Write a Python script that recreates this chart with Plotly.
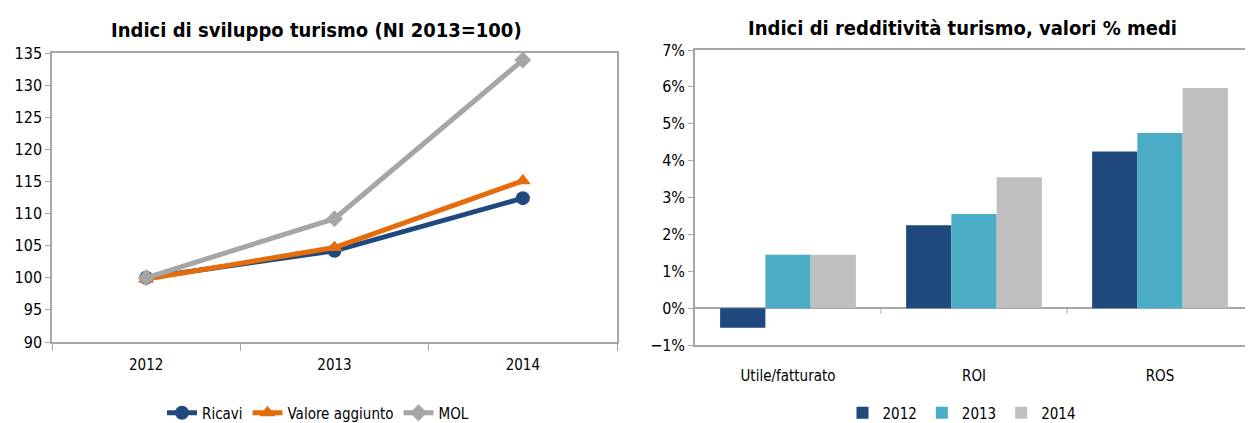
import plotly.graph_objects as go

years = ["2012", "2013", "2014"]
ricavi = [100.0, 104.2, 112.4]
valore_aggiunto = [99.8, 104.7, 115.1]
mol = [100.0, 109.2, 133.9]

bar_categories = ["Utile/fatturato", "ROI", "ROS"]
bars_2012 = [-0.53, 2.25, 4.25]
bars_2013 = [1.45, 2.55, 4.75]
bars_2014 = [1.45, 3.55, 5.97]

FONT = "Liberation Sans Narrow, DejaVu Sans Condensed, Arial Narrow, sans-serif"
BLUE = "#1F497D"
ORANGE = "#E46C0A"
GRAY = "#A6A6A6"
TEAL = "#4BACC6"
LGRAY = "#BFBFBF"
AXIS = "#A6A6A6"

# page body has an 8px default margin; figure sized to fit the window
W, H, OFF = 1245, 415, 8


def px(x):
    return (x - OFF) / W


def py(y):
    return 1 - (y - OFF) / H


fig = go.Figure()

fig.add_trace(go.Scatter(x=years, y=ricavi, name="Ricavi", mode="lines+markers",
                         line=dict(color=BLUE, width=5), marker=dict(symbol="circle", size=14, color=BLUE),
                         xaxis="x", yaxis="y", legend="legend"))
fig.add_trace(go.Scatter(x=years, y=valore_aggiunto, name="Valore aggiunto", mode="lines+markers",
                         line=dict(color=ORANGE, width=5), marker=dict(symbol="triangle-up", size=14, color=ORANGE),
                         xaxis="x", yaxis="y", legend="legend"))
fig.add_trace(go.Scatter(x=years, y=mol, name="MOL", mode="lines+markers",
                         line=dict(color=GRAY, width=5), marker=dict(symbol="diamond", size=13, color=GRAY),
                         xaxis="x", yaxis="y", legend="legend"))

for name, vals, col in [("2012", bars_2012, BLUE), ("2013", bars_2013, TEAL), ("2014", bars_2014, LGRAY)]:
    fig.add_trace(go.Bar(x=bar_categories, y=vals, name=name, marker=dict(color=col, line=dict(width=0)),
                         xaxis="x2", yaxis="y2", legend="legend2"))

# small boundary ticks on the 0% line of the bar chart
for b in [0.5, 1.5]:
    fig.add_shape(type="line", xref="x2", yref="y2", x0=b, x1=b, y0=0, y1=-0.15,
                  line=dict(color=AXIS, width=1))

fig.update_layout(
    width=W, height=H,
    margin=dict(l=0, r=0, t=0, b=0, pad=0, autoexpand=False),
    paper_bgcolor="white", plot_bgcolor="white",
    font=dict(family=FONT, size=15, color="#000000"),
    barmode="group", bargap=0.27, bargroupgap=0,
    xaxis=dict(domain=[px(52), px(617)], anchor="y", type="category", range=[-0.5, 2.5], showgrid=False,
               showline=True, linecolor=AXIS, linewidth=1.5, mirror=True, automargin=False,
               ticks="outside", tickson="boundaries", ticklen=7, tickcolor=AXIS,
               ticklabelstandoff=8, tickfont=dict(size=15)),
    yaxis=dict(domain=[py(342), py(53)], anchor="x", range=[90, 135], dtick=5, showgrid=False,
               showline=True, linecolor=AXIS, linewidth=1.5, mirror=True, automargin=False,
               ticks="outside", ticklen=5, tickcolor=AXIS, tickfont=dict(size=16), zeroline=False),
    xaxis2=dict(domain=[px(695), 1.0], anchor="y2", type="category", range=[-0.5, 2.5], showgrid=False,
                showline=True, linecolor=AXIS, linewidth=1.5, mirror=True, automargin=False,
                ticks="", ticklabelstandoff=16, tickfont=dict(size=15)),
    yaxis2=dict(domain=[py(345), py(50)], anchor="x2", range=[-1, 7], dtick=1, ticksuffix="%",
                showgrid=False, showline=True, linecolor=AXIS, linewidth=1.5, mirror=True, automargin=False,
                ticks="outside", ticklen=5, tickcolor=AXIS, tickfont=dict(size=16),
                zeroline=True, zerolinecolor=AXIS, zerolinewidth=1.5),
    legend=dict(orientation="h", x=px(318), xanchor="center", y=py(413), yanchor="middle",
                font=dict(size=15), itemwidth=30, tracegroupgap=0, bgcolor="rgba(0,0,0,0)"),
    legend2=dict(orientation="h", x=px(962), xanchor="center", y=py(413), yanchor="middle",
                 font=dict(size=15), itemwidth=30, bgcolor="rgba(0,0,0,0)"),
    annotations=[
        dict(text="<b>Indici di sviluppo turismo (NI 2013=100)</b>", x=px(316), y=py(30),
             xref="paper", yref="paper", xanchor="center", yanchor="middle", showarrow=False,
             font=dict(size=20, family=FONT)),
        dict(text="<b>Indici di redditività turismo, valori % medi</b>", x=px(962), y=py(28),
             xref="paper", yref="paper", xanchor="center", yanchor="middle", showarrow=False,
             font=dict(size=20, family=FONT)),
    ],
)

fig.write_html("out.html")
